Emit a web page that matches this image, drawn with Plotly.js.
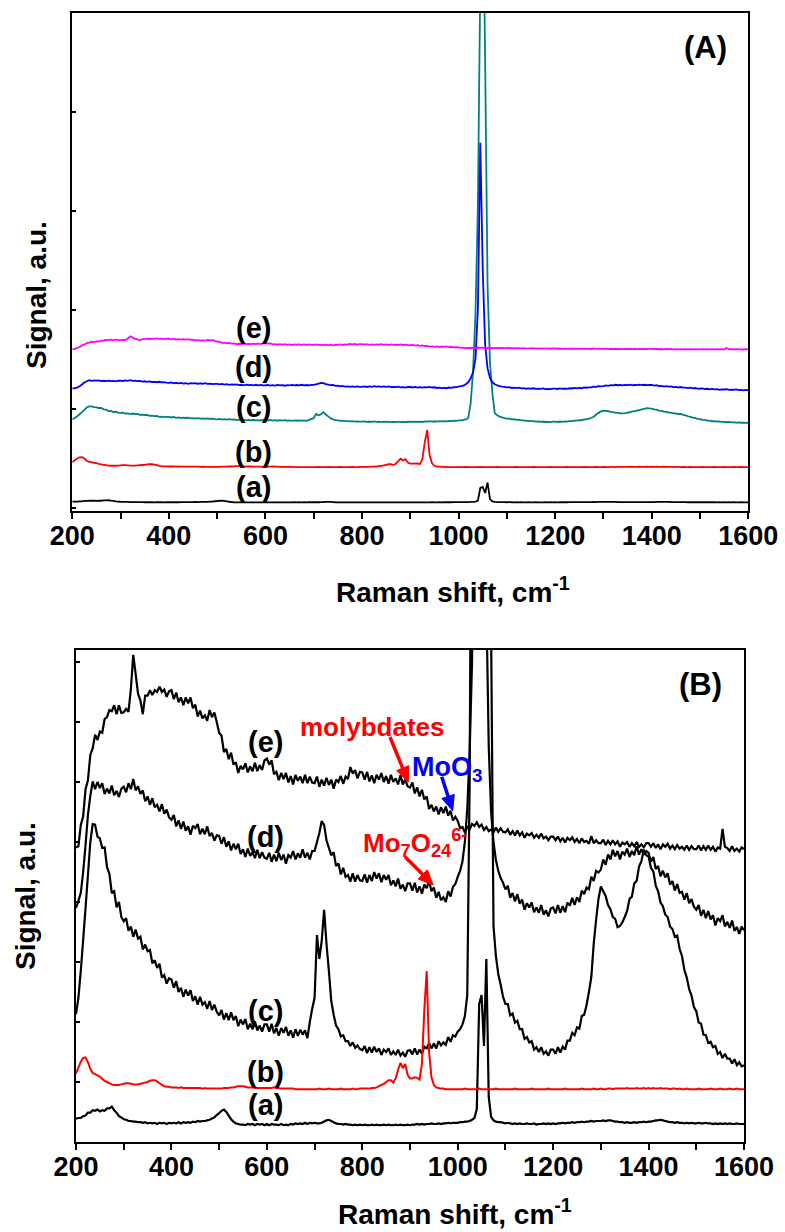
<!DOCTYPE html>
<html>
<head>
<meta charset="utf-8">
<script src="https://cdn.plot.ly/plotly-3.0.1.min.js"></script>
<style>html,body{margin:0;padding:0;background:#fff}#chart{width:785px;height:1232px}</style>
</head>
<body>
<div id="chart"></div>
<script>
// Raman shift grid: start and step (cm-1)
const WN_START = 200;
const WN_STEP = 5;

// Spectra (arbitrary units), one value per 5 cm-1 from 200 to 1600
const specA = [
0.39,0.40,0.40,0.43,0.44,0.49,0.49,0.53,0.52,0.54,0.51,0.53,0.52,0.56,0.56,0.59,0.53,0.49,0.43,0.41,
0.38,0.37,0.35,0.35,0.34,0.34,0.33,0.33,0.32,0.33,0.31,0.32,0.31,0.32,0.30,0.32,0.31,0.32,0.30,0.32,
0.31,0.32,0.31,0.33,0.31,0.33,0.32,0.33,0.32,0.34,0.33,0.35,0.34,0.35,0.35,0.36,0.37,0.39,0.41,0.45,
0.48,0.52,0.54,0.50,0.44,0.38,0.34,0.31,0.30,0.29,0.29,0.28,0.30,0.29,0.30,0.28,0.30,0.29,0.30,0.28,
0.30,0.28,0.30,0.29,0.29,0.28,0.30,0.28,0.29,0.28,0.30,0.29,0.31,0.30,0.31,0.30,0.32,0.30,0.32,0.31,
0.32,0.31,0.31,0.32,0.34,0.36,0.37,0.35,0.33,0.31,0.30,0.30,0.29,0.30,0.29,0.29,0.28,0.29,0.28,0.29,
0.28,0.29,0.28,0.28,0.29,0.28,0.29,0.28,0.28,0.29,0.28,0.29,0.28,0.28,0.29,0.28,0.29,0.28,0.28,0.29,
0.28,0.29,0.29,0.30,0.29,0.30,0.29,0.30,0.30,0.31,0.30,0.30,0.31,0.30,0.31,0.31,0.32,0.31,0.32,0.32,
0.32,0.33,0.33,0.34,0.34,0.35,0.37,0.40,0.55,2.30,2.45,1.60,3.05,0.75,0.42,0.36,0.34,0.33,0.33,0.32,
0.31,0.32,0.31,0.30,0.31,0.30,0.31,0.30,0.30,0.31,0.30,0.30,0.31,0.29,0.30,0.30,0.31,0.30,0.31,0.30,
0.31,0.30,0.31,0.31,0.32,0.31,0.32,0.32,0.33,0.32,0.33,0.33,0.34,0.33,0.34,0.34,0.35,0.34,0.35,0.35,
0.35,0.36,0.35,0.36,0.36,0.35,0.34,0.34,0.33,0.33,0.32,0.33,0.32,0.32,0.33,0.32,0.33,0.33,0.34,0.33,
0.34,0.34,0.35,0.36,0.36,0.37,0.36,0.35,0.34,0.33,0.33,0.32,0.33,0.32,0.32,0.31,0.32,0.31,0.32,0.31,
0.31,0.32,0.31,0.31,0.32,0.31,0.31,0.30,0.31,0.30,0.31,0.30,0.31,0.30,0.31,0.30,0.30,0.31,0.30,0.30,
0.30];

const specB = [
1.14,1.24,1.34,1.40,1.41,1.33,1.22,1.15,1.13,1.11,1.09,1.05,1.02,1.00,0.98,0.96,0.95,0.95,0.95,0.96,
0.97,0.98,0.98,0.97,0.96,0.96,0.96,0.97,0.98,0.99,1.00,1.02,1.03,1.03,1.01,0.98,0.95,0.93,0.92,0.92,
0.91,0.91,0.91,0.90,0.91,0.90,0.90,0.90,0.90,0.90,0.90,0.90,0.90,0.89,0.90,0.89,0.89,0.89,0.89,0.89,
0.89,0.89,0.90,0.90,0.90,0.91,0.91,0.92,0.93,0.93,0.93,0.92,0.91,0.91,0.91,0.90,0.90,0.90,0.90,0.90,
0.90,0.90,0.90,0.91,0.90,0.90,0.89,0.89,0.89,0.89,0.89,0.89,0.88,0.88,0.88,0.88,0.88,0.88,0.88,0.88,
0.88,0.88,0.89,0.88,0.88,0.88,0.89,0.88,0.88,0.88,0.88,0.89,0.88,0.88,0.88,0.88,0.89,0.88,0.88,0.89,
0.89,0.89,0.89,0.89,0.90,0.90,0.91,0.93,0.95,0.97,1.00,1.03,1.03,0.99,1.06,1.20,1.32,1.23,1.30,1.12,
1.06,1.06,1.08,1.07,1.04,1.30,2.20,2.85,1.50,1.08,0.95,0.91,0.90,0.89,0.89,0.88,0.88,0.88,0.88,0.88,
0.88,0.88,0.88,0.89,0.88,0.88,0.88,0.88,0.88,0.89,0.88,0.88,0.88,0.88,0.88,0.88,0.89,0.88,0.88,0.88,
0.88,0.88,0.88,0.88,0.89,0.88,0.88,0.88,0.88,0.88,0.88,0.89,0.88,0.88,0.88,0.88,0.88,0.88,0.89,0.88,
0.88,0.88,0.88,0.88,0.88,0.89,0.88,0.88,0.88,0.88,0.88,0.88,0.89,0.88,0.88,0.88,0.88,0.89,0.88,0.88,
0.89,0.88,0.88,0.89,0.89,0.88,0.89,0.89,0.89,0.89,0.89,0.90,0.89,0.89,0.89,0.90,0.89,0.89,0.90,0.89,
0.90,0.89,0.90,0.89,0.89,0.90,0.89,0.89,0.89,0.88,0.89,0.89,0.88,0.89,0.88,0.88,0.89,0.88,0.88,0.88,
0.88,0.89,0.88,0.88,0.88,0.88,0.89,0.88,0.88,0.88,0.89,0.88,0.88,0.88,0.89,0.88,0.88,0.89,0.88,0.88,
0.88];

const specC = [
2.13,2.40,2.85,3.37,3.90,4.45,5.00,5.30,5.29,5.09,5.06,4.90,4.91,4.58,4.47,4.15,4.18,3.91,4.00,3.75,
3.68,3.73,3.52,3.59,3.42,3.54,3.39,3.42,3.21,3.29,3.18,3.20,2.98,3.03,2.90,2.97,2.74,2.78,2.64,2.73,
2.71,2.57,2.68,2.50,2.57,2.42,2.54,2.44,2.53,2.35,2.43,2.29,2.42,2.29,2.33,2.22,2.35,2.20,2.29,2.17,
2.11,2.20,2.04,2.15,2.03,2.16,2.03,2.10,1.93,2.04,1.96,2.05,1.88,1.97,1.88,2.01,1.86,1.94,1.84,1.96,
1.96,1.84,1.97,1.81,1.90,1.77,1.90,1.82,1.92,1.77,1.86,1.74,1.88,1.77,1.87,1.79,1.86,1.73,2.00,2.22,
2.40,3.45,3.05,3.35,3.87,3.30,2.85,2.35,2.12,1.94,1.88,1.76,1.78,1.68,1.68,1.60,1.66,1.57,1.61,1.55,
1.53,1.60,1.48,1.58,1.49,1.59,1.50,1.56,1.45,1.54,1.50,1.56,1.45,1.51,1.45,1.54,1.44,1.49,1.42,1.52,
1.53,1.46,1.56,1.46,1.54,1.47,1.59,1.56,1.65,1.56,1.64,1.56,1.68,1.61,1.66,1.62,1.75,1.67,1.78,1.76,
1.84,1.88,1.96,2.10,2.45,6.00,14.0,28.0,55.0,110,140,90.0,35.0,16.0,8.50,3.60,3.10,2.80,2.62,2.42,
2.30,2.30,2.11,2.14,1.99,2.02,1.88,1.88,1.72,1.75,1.66,1.68,1.54,1.58,1.50,1.58,1.47,1.51,1.44,1.54,
1.54,1.47,1.58,1.49,1.59,1.54,1.69,1.69,1.82,1.78,1.91,1.89,2.10,2.12,2.28,2.50,2.75,3.30,3.70,4.05,
4.26,4.18,4.10,3.95,3.88,3.75,3.72,3.58,3.60,3.66,3.75,3.85,4.05,4.09,4.31,4.35,4.59,4.68,4.87,4.78,
4.76,4.57,4.51,4.27,4.18,3.99,3.93,3.79,3.75,3.59,3.55,3.42,3.44,3.22,3.10,2.87,2.74,2.55,2.44,2.25,
2.18,1.99,1.97,1.79,1.78,1.65,1.67,1.58,1.60,1.47,1.50,1.40,1.47,1.39,1.39,1.31,1.38,1.28,1.33,1.26,
1.28];

const specD = [
3.90,4.02,4.15,4.50,4.95,5.45,5.77,6.01,5.88,6.00,5.90,5.98,5.80,5.89,5.81,5.94,5.78,5.85,5.75,5.89,
5.92,5.83,5.98,5.88,6.05,5.86,5.93,5.80,5.86,5.68,5.76,5.62,5.73,5.58,5.62,5.51,5.63,5.47,5.54,5.41,
5.37,5.45,5.26,5.36,5.22,5.34,5.19,5.26,5.12,5.27,5.23,5.30,5.13,5.22,5.13,5.26,5.10,5.15,5.02,5.11,
5.10,4.97,5.08,4.92,5.01,4.86,4.97,4.88,4.97,4.80,4.88,4.75,4.89,4.77,4.83,4.73,4.87,4.73,4.83,4.74,
4.72,4.82,4.67,4.79,4.68,4.82,4.70,4.79,4.64,4.78,4.74,4.85,4.71,4.81,4.74,4.88,4.74,4.82,4.71,4.85,
4.85,5.00,5.15,5.35,5.28,5.03,4.90,4.78,4.83,4.60,4.64,4.46,4.57,4.42,4.45,4.34,4.48,4.34,4.45,4.36,
4.35,4.46,4.32,4.45,4.35,4.50,4.39,4.48,4.33,4.45,4.37,4.45,4.28,4.36,4.26,4.39,4.22,4.29,4.18,4.31,
4.31,4.19,4.32,4.16,4.26,4.14,4.29,4.23,4.35,4.18,4.24,4.07,4.17,4.03,4.08,4.00,4.18,4.09,4.25,4.30,
4.42,4.52,4.68,5.00,5.55,6.50,8.00,11.5,24.0,66.0,34.0,15.0,9.00,6.60,5.50,5.00,4.70,4.52,4.40,4.32,
4.21,4.27,4.07,4.15,4.01,4.13,3.97,4.04,3.87,3.98,3.91,3.99,3.83,3.91,3.82,3.95,3.79,3.86,3.76,3.89,
3.91,3.81,3.95,3.82,3.93,3.83,3.99,3.94,4.07,3.95,4.08,4.00,4.19,4.13,4.24,4.21,4.42,4.35,4.52,4.49,
4.54,4.71,4.62,4.79,4.71,4.87,4.76,4.85,4.71,4.84,4.79,4.89,4.75,4.85,4.78,4.93,4.79,4.88,4.79,4.85,
4.82,4.67,4.75,4.55,4.60,4.43,4.52,4.41,4.48,4.29,4.35,4.19,4.30,4.15,4.17,4.04,4.15,3.98,4.05,3.92,
3.87,3.95,3.77,3.87,3.73,3.85,3.71,3.78,3.61,3.73,3.68,3.78,3.59,3.67,3.57,3.69,3.52,3.58,3.47,3.59,
3.53];

const specE = [
4.91,4.93,5.28,5.43,5.88,6.03,6.45,6.56,6.79,6.70,6.84,6.82,7.05,7.08,7.20,7.18,7.28,7.13,7.28,7.15,
7.16,7.22,7.17,7.55,8.12,7.80,7.47,7.36,7.13,7.44,7.44,7.53,7.45,7.53,7.50,7.59,7.50,7.54,7.42,7.51,
7.53,7.38,7.49,7.33,7.41,7.28,7.41,7.31,7.41,7.23,7.29,7.09,7.19,7.06,7.11,7.02,7.20,7.08,7.16,7.00,
6.82,6.77,6.50,6.55,6.38,6.49,6.29,6.33,6.15,6.27,6.21,6.31,6.16,6.26,6.18,6.32,6.18,6.28,6.20,6.36,
6.39,6.29,6.36,6.13,6.17,6.03,6.15,6.05,6.15,5.99,6.10,5.96,6.12,6.02,6.09,5.98,6.12,5.98,6.09,5.99,
5.98,6.09,5.92,6.04,5.94,6.07,5.95,6.04,5.89,6.04,6.00,6.10,5.97,6.09,6.05,6.25,6.14,6.20,6.06,6.17,
6.16,6.04,6.17,6.01,6.11,5.98,6.12,6.04,6.15,6.00,6.10,5.97,6.12,6.00,6.06,5.96,6.11,5.96,6.04,5.93,
5.91,5.99,5.81,5.91,5.76,5.87,5.71,5.76,5.55,5.62,5.51,5.59,5.46,5.58,5.48,5.59,5.44,5.52,5.36,5.42,
5.35,5.23,5.25,5.16,5.25,5.21,5.30,5.27,5.33,5.25,5.29,5.20,5.25,5.18,5.21,5.16,5.24,5.17,5.23,5.17,
5.16,5.21,5.12,5.18,5.11,5.19,5.11,5.16,5.07,5.14,5.11,5.15,5.07,5.12,5.07,5.14,5.06,5.09,5.03,5.09,
5.09,5.03,5.09,5.01,5.07,4.99,5.07,5.03,5.08,5.00,5.05,4.98,5.06,5.00,5.02,4.97,5.10,4.98,5.03,4.98,
4.98,5.04,4.95,5.02,4.96,5.03,4.96,5.01,4.92,4.99,4.96,5.00,4.92,4.98,4.93,5.00,4.92,4.96,4.91,4.98,
4.98,4.92,4.98,4.90,4.96,4.88,4.96,4.92,4.97,4.89,4.94,4.88,4.95,4.89,4.92,4.87,4.94,4.87,4.93,4.88,
4.88,4.94,4.86,4.93,4.87,4.94,4.87,4.92,4.84,4.91,4.89,5.22,4.92,4.90,4.85,4.93,4.85,4.89,4.84,4.91,
4.88];

const sampleLabels = ['(a)', '(b)', '(c)', '(d)', '(e)'];
const xTickVals = [200, 400, 600, 800, 1000, 1200, 1400, 1600];
const xTickText = ['200', '400', '600', '800', '1000', '1200', '1400', '1600'];

// ---- presentation: stacking offsets/scales for panel A, colours, positions ----
const spectra = [specA, specB, specC, specD, specE];
const stackA = [[0.0358,0.0727],[0.2455,0.1909],[0.8087,0.0412],[1.05,0.04],[1.4047,0.0406]];
const colorsA = ['#000000','#ff0000','#008080','#0000ff','#ff00ff'];
const colorsB = ['#000000','#ff0000','#000000','#000000','#000000'];
const FONT = 'Liberation Sans, Arial, Helvetica, sans-serif';

const traces = [];
[0,1,2,3,4].forEach(i => {
  traces.push({
    type:'scatter', mode:'lines', x0:WN_START, dx:WN_STEP,
    y: spectra[i].map(v => stackA[i][0] + stackA[i][1]*v),
    xaxis:'x', yaxis:'y', line:{color:colorsA[i], width:1.8, simplify:false},
    hoverinfo:'skip', showlegend:false
  });
});
[4,3,2,0,1].forEach(i => {
  traces.push({
    type:'scatter', mode:'lines', x0:WN_START, dx:WN_STEP,
    y: spectra[i],
    xaxis:'x2', yaxis:'y2', line:{color:colorsB[i], width:(i === 1 ? 2 : 2.2), simplify:false},
    hoverinfo:'skip', showlegend:false
  });
});

const tickFont = {family:FONT, size:27, color:'#000', weight:'bold'};
function bottomX(domain, anchor){
  return {domain:domain, anchor:anchor, range:[200,1600], tickmode:'array', tickvals:xTickVals, ticktext:xTickText,
    ticks:'outside', ticklen:6, tickwidth:2, tickcolor:'#000',
    minor:{dtick:100, tick0:200, ticks:'outside', ticklen:6, tickwidth:2, tickcolor:'#000', showgrid:false},
    showline:true, linewidth:2, linecolor:'#000',
    mirror:true, showgrid:false, zeroline:false, tickfont:tickFont, ticklabelstandoff:-6, fixedrange:true};
}
function topX(over, anchor){
  return {overlaying:over, anchor:anchor, side:'top', range:[200,1600], tickmode:'linear', tick0:200, dtick:100,
    ticks:'inside', ticklen:2.5, tickwidth:1.5, tickcolor:'#000', showticklabels:false, showline:false,
    showgrid:false, zeroline:false, fixedrange:true};
}
function leftY(domain, anchor, range){
  return {domain:domain, anchor:anchor, range:range, tickmode:'linear', tick0:0, dtick:1,
    ticks:'inside', ticklen:4, tickwidth:1.5, tickcolor:'#000', showticklabels:false, showline:true,
    linewidth:2, linecolor:'#000', mirror:true, showgrid:false, zeroline:false, fixedrange:true};
}
function rightY(over, anchor, range){
  return {overlaying:over, anchor:anchor, side:'right', range:range, tickmode:'linear', tick0:0, dtick:1,
    ticks:'outside', ticklen:3, tickwidth:1.5, tickcolor:'#000', showticklabels:false, showline:false,
    showgrid:false, zeroline:false, fixedrange:true};
}

const W = 785, H = 1232;
const px = v => v / W;
const py = v => 1 - v / H;

function txt(text, x, y, size, color, opts){
  return Object.assign({text:text, xref:'paper', yref:'paper', x:px(x), y:py(y), showarrow:false,
    xanchor:'center', yanchor:'middle', font:{family:FONT, size:size, color:color, weight:'bold'}}, opts||{});
}

// arrows as shapes (screen-pixel tail/tip converted to paper coordinates)
function arrowShapes(tail, tip, color){
  const dx = tip[0]-tail[0], dy = tip[1]-tail[1];
  const len = Math.hypot(dx, dy), ux = dx/len, uy = dy/len;
  const L = 15, w = 6.5;
  const bx = tip[0]-ux*L, by = tip[1]-uy*L, nx = -uy, ny = ux;
  return [
    {type:'line', xref:'paper', yref:'paper', x0:px(tail[0]), y0:py(tail[1]), x1:px(bx+ux*2), y1:py(by+uy*2),
     line:{color:color, width:3.5}, layer:'above'},
    {type:'path', xref:'paper', yref:'paper', layer:'above', fillcolor:color, line:{color:color, width:1},
     path:'M '+px(tip[0])+','+py(tip[1])+' L '+px(bx+nx*w)+','+py(by+ny*w)+' L '+px(bx-nx*w)+','+py(by-ny*w)+' Z'}
  ];
}
const shapes = [].concat(
  arrowShapes([390, 737], [408.3, 782], '#ff0000'),
  arrowShapes([441.7, 776.7], [452.7, 810.7], '#0000ff'),
  arrowShapes([405, 856.7], [433.3, 885], '#ff0000')
);

const annotations = [
  txt('(A)', 705, 47, 31, '#000'),
  txt('(B)', 700, 684, 31, '#000'),
  txt('Raman shift, cm<sup>-1</sup>', 334, 590, 28, '#000', {xanchor:'left'}),
  txt('Raman shift, cm<sup>-1</sup>', 336, 1212, 28, '#000', {xanchor:'left'}),
  txt('Signal, a.u.', 36, 295, 28, '#000', {textangle:-90}),
  txt('Signal, a.u.', 25, 896, 28, '#000', {textangle:-90}),
  txt('molybdates', 372, 727, 26, '#ff0000'),
  txt('MoO<sub>3</sub>', 410, 769, 27, '#0000ff', {xanchor:'left'}),
  txt('Mo<sub>7</sub>O<sub>24</sub><sup>6-</sup>', 361, 843, 26, '#ff0000', {xanchor:'left'})
];
const labelYA = [487, 452, 407, 367, 328];
const labelYB = [1105, 1072, 1011, 837, 742];
sampleLabels.forEach((t, i) => {
  annotations.push(txt(t, 253, labelYA[i], 29, '#000'));
  annotations.push(txt(t, 265, labelYB[i], 29, '#000'));
});

const layout = {
  width:W, height:H, margin:{l:0, r:0, t:0, b:0}, paper_bgcolor:'#fff', plot_bgcolor:'rgba(0,0,0,0)',
  showlegend:false,
  xaxis: bottomX([px(72.3), px(748.3)], 'y'),
  yaxis: leftY([py(511), py(13)], 'x', [-0.03, 5]),
  xaxis3: topX('x', 'y'),
  yaxis3: rightY('y', 'x', [-0.03, 5]),
  xaxis2: bottomX([px(76), px(744)], 'y2'),
  yaxis2: leftY([py(1142), py(650)], 'x2', [0, 8.2]),
  xaxis4: topX('x2', 'y2'),
  yaxis4: rightY('y2', 'x2', [0, 8.2]),
  annotations: annotations,
  shapes: shapes
};

Plotly.newPlot('chart', traces, layout, {staticPlot:true, displayModeBar:false});
</script>
</body>
</html>
